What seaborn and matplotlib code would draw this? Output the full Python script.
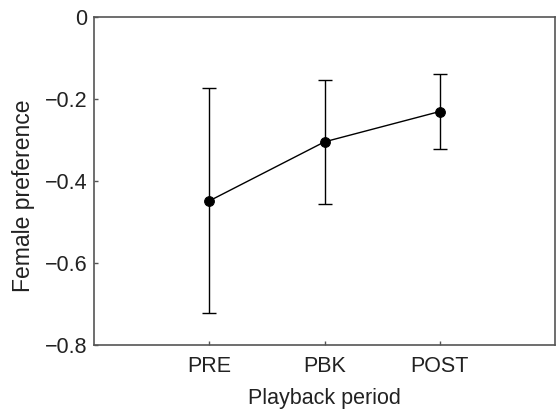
import numpy as np
import pandas as pd
import matplotlib
matplotlib.use("Agg")
import matplotlib.pyplot as plt
from matplotlib.ticker import FuncFormatter
import seaborn as sns

periods = ['PRE', 'PBK', 'POST']
pref_mean = [-0.448, -0.304, -0.230]
pref_err = [0.275, 0.152, 0.091]

df = pd.DataFrame({'period': periods, 'pref': pref_mean, 'err': pref_err})

sns.set_style('white')
plt.rcParams['font.family'] = ['Liberation Sans', 'DejaVu Sans']

fig = plt.figure(figsize=(5.56, 4.11), dpi=100)
ax = fig.add_axes([0.1696, 0.1606, 0.8284, 0.7973])

ax.errorbar(np.arange(len(periods)), df['pref'], yerr=df['err'], fmt='none',
            ecolor='black', elinewidth=1, capsize=4.7, capthick=1, zorder=2)
sns.lineplot(data=df, x='period', y='pref', sort=False, color='black', lw=1,
             marker='o', markersize=7, markeredgecolor='black', ax=ax, zorder=3)

ax.set_xlim(-1, 3)
ax.set_ylim(-0.8, 0)
ax.set_yticks([0, -0.2, -0.4, -0.6, -0.8])
ax.yaxis.set_major_formatter(FuncFormatter(
    lambda v, p: '0' if abs(v) < 1e-9 else f'{v:.1f}'.replace('-', '\u2212')))

for s in ax.spines.values():
    s.set_color('#555555')
    s.set_linewidth(1.2)

ax.tick_params(axis='both', direction='in', length=3, width=1, color='#555555',
               labelsize=15.5, labelcolor='#222222')
ax.tick_params(axis='y', left=True, pad=5)
ax.tick_params(axis='x', bottom=True, pad=8)

ax.set_xlabel('Playback period', fontsize=15.5, color='#222222', labelpad=8)
ax.set_ylabel('Female preference', fontsize=16.5, color='#222222')
ax.yaxis.set_label_coords(-0.128, 0.455)

fig.savefig('out.png', dpi=100)
